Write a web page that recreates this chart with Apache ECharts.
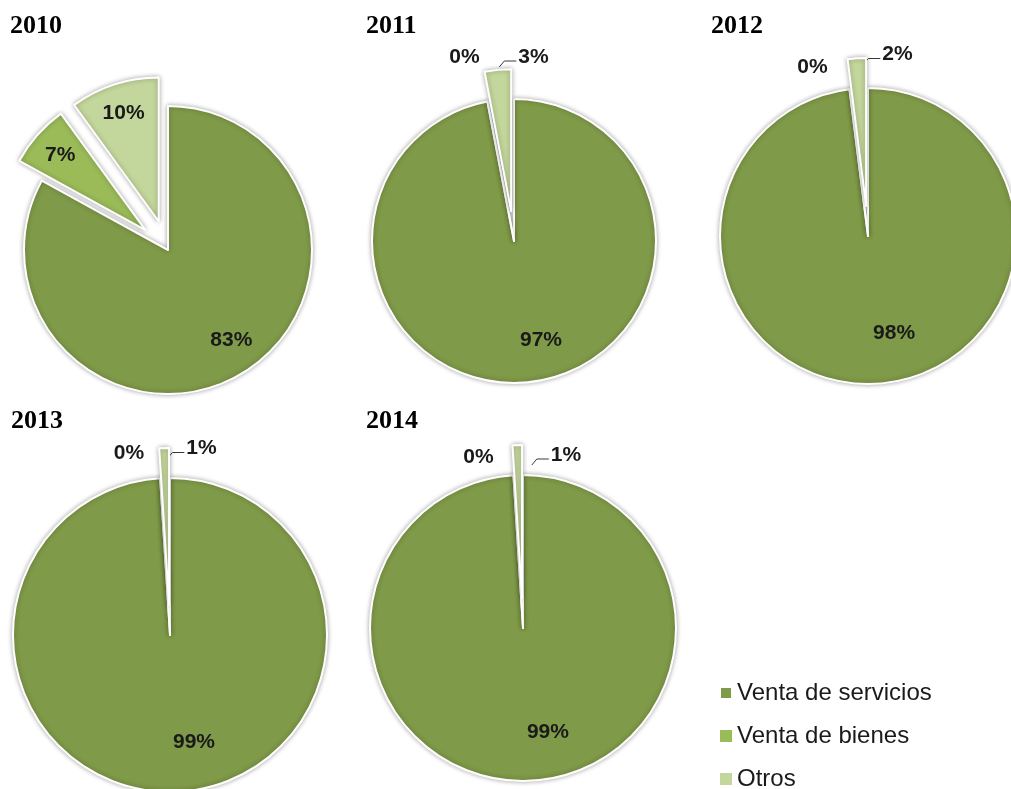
<!DOCTYPE html>
<html>
<head>
<meta charset="utf-8">
<script src="https://cdn.jsdelivr.net/npm/echarts@6/dist/echarts.min.js"></script>
<style>
  html, body { margin: 0; padding: 0; background: #ffffff; }
  #chart { width: 1011px; height: 789px; }
</style>
</head>
<body>
<div id="chart"></div>
<script>
// Share of income by source, one pie per year
const years = ['2010', '2011', '2012', '2013', '2014'];
const categories = ['Venta de servicios', 'Venta de bienes', 'Otros'];
const servicios = [83, 97, 98, 99, 99];
const bienes = [7, 0, 0, 0, 0];
const otros = [10, 3, 2, 1, 1];
// which slices are pulled out of each pie
const explodeBienes = [true, false, false, false, false];
const explodeOtros = [true, true, true, true, true];

const colors = ['#7F9A48', '#9BBB59', '#C3D69B'];
const EXPLODE = 30;

// Placement of every pie and its labels (pixels / fractions of radius)
const pieLayout = [
  { center: [168, 250], r: 144, title: [10, 13], main: [0.44, 0.625], outside: false },
  { center: [514, 241], r: 142, title: [366, 13], main: [0.19, 0.70], outside: true, zero: [-49.5, -184], other: [19.5, -184] },
  { center: [868, 236], r: 148, title: [711, 13], main: [0.176, 0.655], outside: true, zero: [-55.5, -168.5], other: [29.5, -181.5] },
  { center: [170, 635], r: 157, title: [11, 408], main: [0.153, 0.68], outside: true, zero: [-41, -182], other: [31.5, -186.5] },
  { center: [523, 628], r: 153, title: [366, 408], main: [0.163, 0.68], outside: true, zero: [-44.5, -171], other: [43, -173] }
];

function sliceValues(i) {
  return [servicios[i], bienes[i], otros[i]];
}

function isExploded(i, k) {
  return (k === 1 && explodeBienes[i]) || (k === 2 && explodeOtros[i]);
}

// mid angle of a slice, clockwise from 12 o'clock, in radians
function midAngle(vals, idx) {
  const total = vals.reduce((a, b) => a + b, 0);
  let before = 0;
  for (let k = 0; k < idx; k++) before += vals[k];
  return (before + vals[idx] / 2) / total * Math.PI * 2;
}

const labelFont = {
  fontFamily: 'Liberation Sans, Arial, sans-serif',
  fontWeight: 'bold',
  fontSize: 21,
  color: '#1a1a1a'
};

const hiddenItem = {
  itemStyle: { color: 'rgba(0,0,0,0)', borderColor: 'rgba(0,0,0,0)', borderWidth: 0, shadowBlur: 0, shadowColor: 'rgba(0,0,0,0)' },
  label: { show: false },
  labelLine: { show: false }
};

// Label anchor for slice k of pie i (pie centre taken from the series)
function labelAnchor(i, k, cx, cy) {
  const cfg = pieLayout[i];
  const vals = sliceValues(i);
  if (k === 0) {
    return [cx + cfg.main[0] * cfg.r, cy + cfg.main[1] * cfg.r];
  }
  if (cfg.outside) {
    const o = k === 1 ? cfg.zero : cfg.other;
    return [cfg.center[0] + o[0], cfg.center[1] + o[1]];
  }
  const a = midAngle(vals, k);
  const d = 0.79 * cfg.r;
  return [cx + d * Math.sin(a), cy - d * Math.cos(a)];
}

// One pie series; `only` = index of the single visible slice (pulled-out piece), or -1 for the body
function makeSeries(i, only) {
  const cfg = pieLayout[i];
  const vals = sliceValues(i);
  let cx = cfg.center[0], cy = cfg.center[1];
  if (only >= 0) {
    const a = midAngle(vals, only);
    cx += EXPLODE * Math.sin(a);
    cy -= EXPLODE * Math.cos(a);
  }
  const data = categories.map(function (name, k) {
    const item = { name: name, value: vals[k] };
    const visible = only >= 0 ? k === only : !isExploded(i, k);
    if (!visible) Object.assign(item, hiddenItem);
    else if (k === 2 && cfg.outside) item.labelLine = { show: true };
    return item;
  });
  return {
    type: 'pie',
    name: years[i],
    center: [cx, cy],
    radius: [0, cfg.r],
    startAngle: 90,
    clockwise: true,
    avoidLabelOverlap: false,
    animation: false,
    silent: true,
    itemStyle: {
      borderColor: '#ffffff',
      borderWidth: 2,
      shadowBlur: 5,
      shadowColor: 'rgba(0,0,0,0.32)'
    },
    label: Object.assign({
      show: true,
      position: 'outside',
      formatter: function (p) { return p.value + '%'; }
    }, labelFont),
    labelLine: {
      show: false,
      lineStyle: { color: '#3a3a3a', width: 1 }
    },
    emphasis: { disabled: true },
    labelLayout: function (p) {
      const pos = labelAnchor(i, p.dataIndex, cx, cy);
      const res = { x: pos[0], y: pos[1], align: 'center', verticalAlign: 'middle' };
      if (cfg.outside && p.dataIndex === 2) {
        const left = pos[0] - p.labelRect.width / 2;
        const p2 = [left - 2, pos[1] + 4];
        const p1 = [p2[0] - 12, p2[1]];
        const p0 = [p1[0] - 5, p1[1] + 6];
        res.labelLinePoints = [p0, p1, p2];
      }
      return res;
    },
    data: data
  };
}

const series = [];
years.forEach(function (yr, i) {
  series.push(makeSeries(i, -1));
  [1, 2].forEach(function (k) {
    if (isExploded(i, k)) series.push(makeSeries(i, k));
  });
});

const titles = years.map(function (yr, i) {
  return {
    text: yr,
    left: pieLayout[i].title[0],
    top: pieLayout[i].title[1],
    padding: 0,
    textStyle: {
      fontFamily: 'Liberation Serif, Times New Roman, serif',
      fontWeight: 'bold',
      fontSize: 26,
      color: '#000000'
    }
  };
});

const chart = echarts.init(document.getElementById('chart'), null, { renderer: 'canvas' });
chart.setOption({
  animation: false,
  color: colors,
  title: titles,
  legend: {
    orient: 'vertical',
    left: 719,
    top: 681,
    height: 140,
    padding: 0,
    itemWidth: 12,
    itemHeight: 12,
    itemGap: 19,
    icon: 'rect',
    selectedMode: false,
    data: categories.map(function (name, k) {
      return { name: name, itemStyle: { color: colors[k], opacity: 1 } };
    }),
    textStyle: {
      fontFamily: 'Liberation Sans, Arial, sans-serif',
      fontSize: 24,
      color: '#1a1a1a'
    }
  },
  series: series
});
</script>
</body>
</html>
